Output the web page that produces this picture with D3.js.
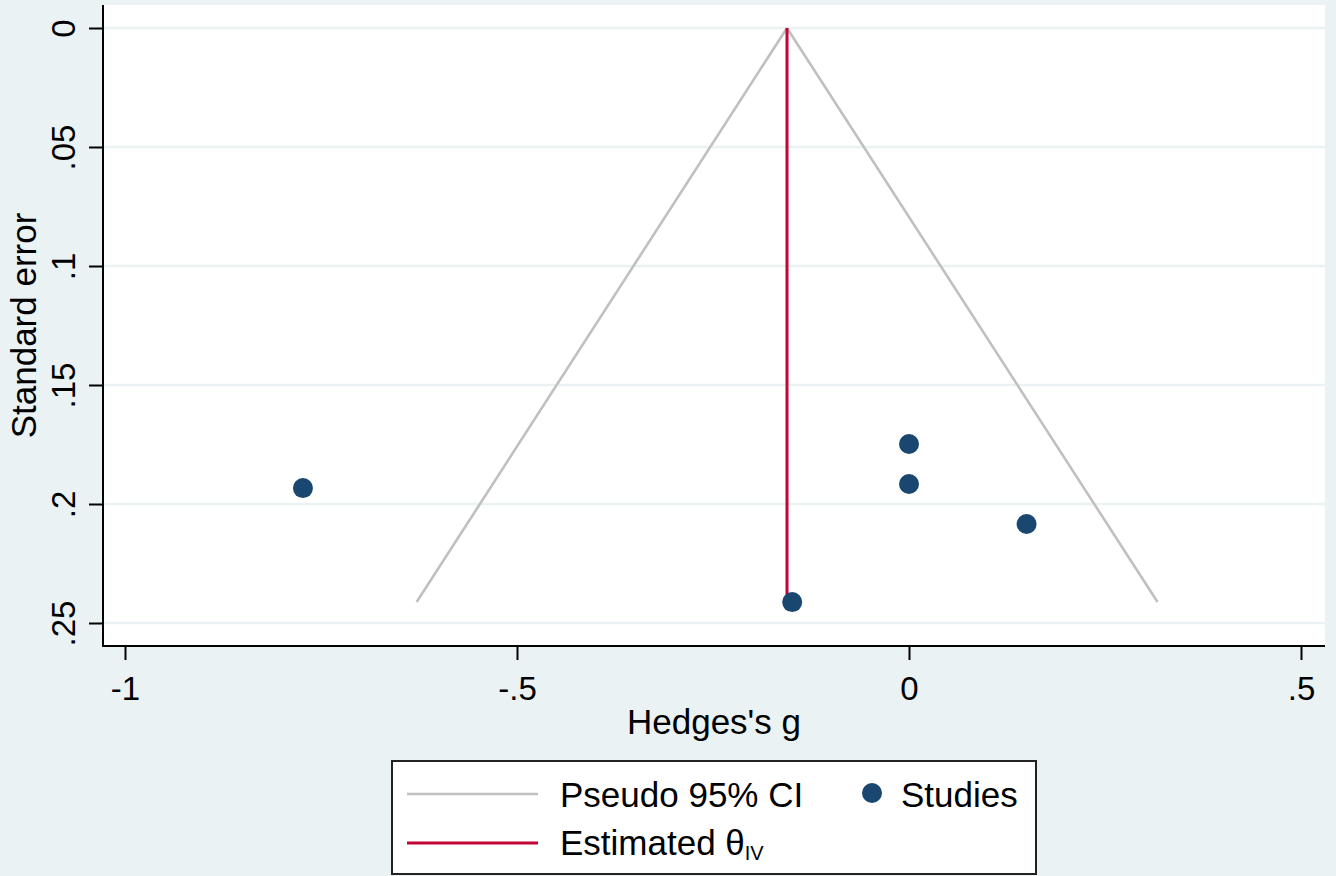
<!DOCTYPE html>
<html>
<head>
<meta charset="utf-8">
<script src="https://cdn.jsdelivr.net/npm/d3@7"></script>
<style>
  html, body { margin: 0; padding: 0; background: #eaf2f3; }
  svg { display: block; font-family: "Liberation Sans", Arial, sans-serif; }
</style>
</head>
<body>
<svg id="chart" width="1336" height="876"></svg>
<script>
// ---- Data ----
const studyG  = [-0.773, 0.0, 0.0, 0.150, -0.149];
const studySE = [0.1933, 0.1748, 0.1916, 0.2084, 0.2412];

const thetaIV = -0.1556;              // estimated effect
const funnelSE    = [0, 0.2412];       // apex and base of the funnel
const funnelLower = [-0.1556, -0.628];
const funnelUpper = [-0.1556, 0.317];

const xTicks = [-1, -0.5, 0, 0.5];
const xTickLabels = ["-1", "-.5", "0", ".5"];
const yTicks = [0, 0.05, 0.1, 0.15, 0.2, 0.25];
const yTickLabels = ["0", ".05", ".1", ".15", ".2", ".25"];

const xTitle = "Hedges's g";
const yTitle = "Standard error";
const legendLabels = ["Pseudo 95% CI", "Studies", "Estimated θ", "IV"];

// ---- Styles ----
const bg = "#eaf2f3", grid = "#eaf2f3", grey = "#c0c0c0", red = "#c10534", navy = "#1a476f";

const svg = d3.select("#chart");
const plot = { left: 103, right: 1325, top: 5, bottom: 646 };

const x = d3.scaleLinear().domain([-1, 0.5]).range([125, 1301]);
const y = d3.scaleLinear().domain([0, 0.25]).range([28, 623]);

svg.append("rect").attr("x", 0).attr("y", 0).attr("width", 1336).attr("height", 876).attr("fill", bg);
svg.append("rect")
  .attr("x", plot.left).attr("y", plot.top)
  .attr("width", plot.right - plot.left).attr("height", plot.bottom - plot.top)
  .attr("fill", "#ffffff");

// gridlines
svg.append("g").selectAll("line").data(yTicks).join("line")
  .attr("x1", plot.left).attr("x2", plot.right)
  .attr("y1", d => y(d)).attr("y2", d => y(d))
  .attr("stroke", grid).attr("stroke-width", 2.5);

// funnel
const funnelLine = d3.line().x(d => x(d[0])).y(d => y(d[1]));
svg.append("path")
  .datum(funnelSE.map((s, i) => [funnelLower[i], s]))
  .attr("d", funnelLine).attr("fill", "none").attr("stroke", grey).attr("stroke-width", 2.6);
svg.append("path")
  .datum(funnelSE.map((s, i) => [funnelUpper[i], s]))
  .attr("d", funnelLine).attr("fill", "none").attr("stroke", grey).attr("stroke-width", 2.6);

// estimated theta line
svg.append("line")
  .attr("x1", x(thetaIV)).attr("x2", x(thetaIV))
  .attr("y1", y(funnelSE[0])).attr("y2", y(funnelSE[1]))
  .attr("stroke", red).attr("stroke-width", 3);

// studies
svg.append("g").selectAll("circle").data(studyG.map((g, i) => [g, studySE[i]])).join("circle")
  .attr("cx", d => x(d[0])).attr("cy", d => y(d[1])).attr("r", 10)
  .attr("fill", navy);

// axes
const xAxis = d3.axisBottom(x).tickValues(xTicks)
  .tickFormat((d, i) => xTickLabels[i]).tickSize(14).tickSizeOuter(0);
const gx = svg.append("g").attr("transform", `translate(0,${plot.bottom})`).call(xAxis);
gx.select(".domain").remove();
gx.append("line").attr("x1", plot.left).attr("x2", plot.right).attr("y1", 0).attr("y2", 0)
  .attr("stroke", "#000").attr("stroke-width", 2);
gx.selectAll(".tick line").attr("stroke", "#000").attr("stroke-width", 2);
gx.selectAll(".tick text").attr("font-size", 33).attr("fill", "#000")
  .attr("font-family", "Liberation Sans, Arial, sans-serif")
  .attr("y", 54).attr("dy", 0);

const yAxis = d3.axisLeft(y).tickValues(yTicks)
  .tickFormat((d, i) => yTickLabels[i]).tickSize(14).tickSizeOuter(0);
const gy = svg.append("g").attr("transform", `translate(${plot.left},0)`).call(yAxis);
gy.select(".domain").remove();
gy.append("line").attr("x1", 0).attr("x2", 0).attr("y1", plot.top).attr("y2", plot.bottom + 1)
  .attr("stroke", "#000").attr("stroke-width", 2);
gy.selectAll(".tick line").attr("stroke", "#000").attr("stroke-width", 2);
gy.selectAll(".tick text").attr("font-size", 33).attr("fill", "#000")
  .attr("font-family", "Liberation Sans, Arial, sans-serif")
  .attr("x", null).attr("dy", null)
  .attr("text-anchor", "middle")
  .attr("transform", "translate(-28,0) rotate(-90)");

// axis titles
svg.append("text").attr("x", (plot.left + plot.right) / 2).attr("y", 734)
  .attr("text-anchor", "middle").attr("font-size", 35).attr("fill", "#000").text(xTitle);
svg.append("text").attr("transform", `translate(36,${(plot.top + plot.bottom) / 2}) rotate(-90)`)
  .attr("text-anchor", "middle").attr("font-size", 35).attr("fill", "#000").text(yTitle);

// legend
const lg = svg.append("g");
lg.append("rect").attr("x", 392).attr("y", 761).attr("width", 644).attr("height", 113)
  .attr("fill", "#fff").attr("stroke", "#222").attr("stroke-width", 2);
lg.append("line").attr("x1", 407).attr("x2", 538).attr("y1", 794).attr("y2", 794)
  .attr("stroke", grey).attr("stroke-width", 2.6);
lg.append("text").attr("x", 560).attr("y", 807).attr("font-size", 35).attr("fill", "#000").text(legendLabels[0]);
lg.append("circle").attr("cx", 872).attr("cy", 793).attr("r", 10).attr("fill", navy);
lg.append("text").attr("x", 901).attr("y", 807).attr("font-size", 35).attr("fill", "#000").text(legendLabels[1]);
lg.append("line").attr("x1", 407).attr("x2", 538).attr("y1", 843).attr("y2", 843)
  .attr("stroke", red).attr("stroke-width", 3);
const t3 = lg.append("text").attr("x", 560).attr("y", 855).attr("font-size", 35).attr("fill", "#000");
t3.append("tspan").text(legendLabels[2]);
t3.append("tspan").attr("font-size", 20).attr("dy", 5).text(legendLabels[3]);
</script>
</body>
</html>
